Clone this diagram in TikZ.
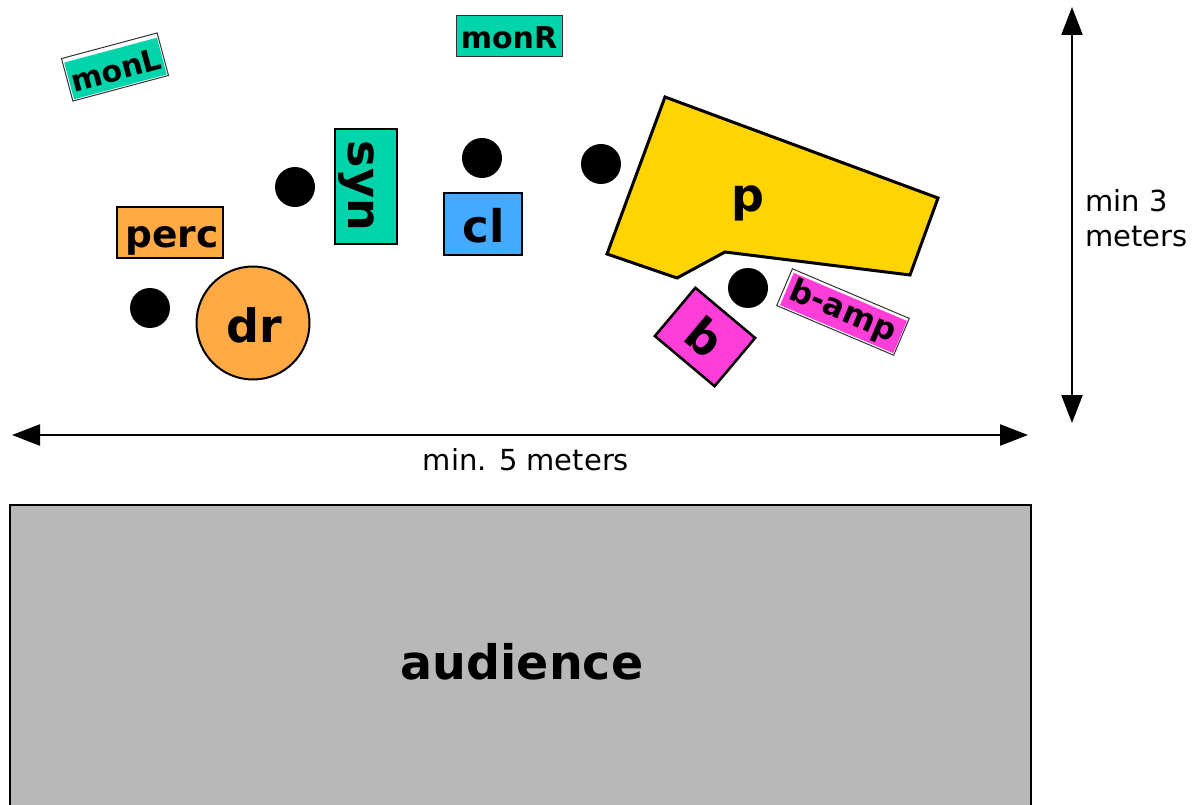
\documentclass[tikz,border=0pt]{standalone}
\usepackage{fontspec}
\setmainfont{DejaVu Sans}
\usetikzlibrary{arrows.meta}
\definecolor{tealc}{HTML}{00D4AA}
\definecolor{orangec}{HTML}{FFAA44}
\definecolor{bluec}{HTML}{44AAFF}
\definecolor{yellowc}{HTML}{FFD400}
\definecolor{pinkc}{HTML}{FF3DD9}
\definecolor{grayc}{HTML}{B8B8B8}
\begin{document}
\begin{tikzpicture}[x=1pt,y=-1pt,
  box/.style={draw=black, line width=2pt, inner sep=0pt},
  thinbox/.style={draw=black!80, line width=1pt, inner sep=0pt},
  lbl/.style={font=\bfseries, inner sep=0pt, anchor=base},
  dot/.style={circle, fill=black, minimum size=40pt, inner sep=0pt},
  dim/.style={line width=2.4pt, {Triangle[length=28pt,width=21pt]}-{Triangle[length=28pt,width=21pt]}},
  dimlbl/.style={inner sep=0pt, anchor=base, font=\fontsize{29}{35}\selectfont}]
\useasboundingbox (0,0) rectangle (1203,805);
\fill[white] (0,0) rectangle (1203,805);

% audience
\draw[line width=2pt, fill=grayc] (10,505) rectangle (1031,830);
\node[lbl, font=\bfseries\fontsize{47.5}{56}\selectfont] (aud) at (522,679) {audience};

% dimension arrows
\coordinate (hl) at (12,435);
\coordinate (hr) at (1028,435);
\draw[dim] (hl) -- (hr);
\node[dimlbl] (hlbl) at (526,470) {min. 5 meters};
\coordinate (vt) at (1072,7);
\coordinate (vb) at (1072,423);
\draw[dim] (vt) -- (vb);
\node[dimlbl, anchor=base west, align=left] (vlbl1) at (1085,212) {min 3};
\node[dimlbl, anchor=base west, align=left] (vlbl2) at (1085,247) {meters};

% monitors
\node[thinbox, fill=tealc, minimum width=106pt, minimum height=41pt] (monR) at (509,36.5) {};
\node[lbl, font=\bfseries\fontsize{30}{36}\selectfont] (monRt) at (509,48.5) {monR};
\node[thinbox, fill=white, minimum width=99pt, minimum height=44pt, rotate=15] (monL) at (115,67) {};
\node[fill=tealc, inner sep=0pt, minimum width=96pt, minimum height=38pt, rotate=15] (monLf) at (115.5,68.5) {};
\node[inner sep=0pt, rotate=15, font=\bfseries\fontsize{30}{36}\selectfont] (monLt) at (116,70) {monL};

% percussion and drums
\node[box, fill=orangec, minimum width=106pt, minimum height=51pt] (perc) at (170,232.5) {};
\node[lbl, font=\bfseries\fontsize{37.5}{45}\selectfont] (perct) at (172,248) {perc};
\node[box, circle, fill=orangec, minimum size=113pt] (dr) at (253,323) {};
\node[lbl, font=\bfseries\fontsize{46}{55}\selectfont] (drt) at (254,342) {dr};

% synth
\node[box, fill=tealc, minimum width=62pt, minimum height=115pt] (syn) at (366,186.5) {};
\node[lbl, rotate=-90, font=\bfseries\fontsize{46}{55}\selectfont] (synt) at (348,186) {syn};

% clarinet
\node[box, fill=bluec, minimum width=78pt, minimum height=62pt] (cl) at (483,224) {};
\node[lbl, font=\bfseries\fontsize{45}{54}\selectfont] (clt) at (484,243) {cl};

% piano
\draw[line width=3pt, fill=yellowc, line join=miter]
  (665,97) -- (938,198) -- (910,275) -- (725,252) -- (677,278) -- (607,254) -- cycle;
\node[lbl, font=\bfseries\fontsize{46}{55}\selectfont] (pt) at (748,212) {p};

% bass
\node[box, line width=2.5pt, fill=pinkc, minimum width=78pt, minimum height=63pt, rotate=-40] (b) at (705,337) {};
\node[inner sep=0pt, rotate=-40, font=\bfseries\fontsize{46}{55}\selectfont] (bt) at (705,337) {b};
\node[thinbox, fill=white, minimum width=127pt, minimum height=40pt, rotate=-23] (bamp) at (843,312) {};
\node[fill=pinkc, inner sep=0pt, minimum width=123pt, minimum height=35pt, rotate=-23] (bampf) at (843.5,313) {};
\node[inner sep=0pt, rotate=-23, font=\bfseries\fontsize{31.5}{38}\selectfont] (bampt) at (843,312) {b-amp};

% players
\node[dot] (d1) at (150,308) {};
\node[dot] (d2) at (295,187) {};
\node[dot] (d3) at (482,158) {};
\node[dot] (d4) at (601,164) {};
\node[dot] (d5) at (748,288) {};
\end{tikzpicture}
\end{document}
